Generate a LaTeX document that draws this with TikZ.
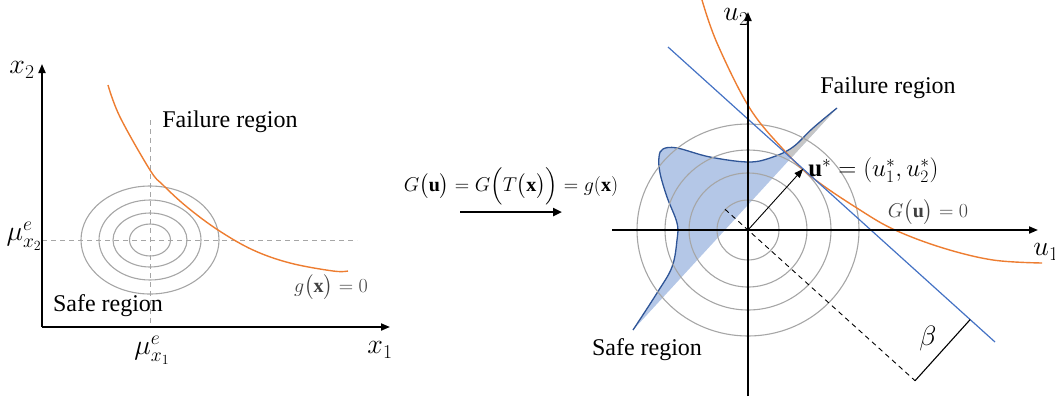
\RequirePackage{fix-cm}
\documentclass[tikz,border=0pt]{standalone}
\usepackage{amsmath}
\usepackage{fontspec}
\setmainfont{Liberation Serif}
\usetikzlibrary{arrows.meta,calc}
\definecolor{orng}{HTML}{ED7D31}
\definecolor{lblue}{HTML}{4472C4}
\definecolor{dblue}{HTML}{2F5597}
\definecolor{fblue}{HTML}{B4C7E7}
\definecolor{cgray}{HTML}{A6A6A6}
\definecolor{tgray}{HTML}{404040}
\begin{document}
\begin{tikzpicture}[x=1pt,y=-1pt,
  axis/.style={line width=1.8pt,-{Triangle[length=9pt,width=7pt]}},
  contour/.style={cgray,line width=1.1pt},
  guide/.style={cgray,line width=0.9pt,dash pattern=on 5pt off 4pt},
  lsf/.style={orng,line width=1.4pt},
  big/.style={inner sep=1pt,font=\fontsize{24}{28}\selectfont},
  mlab/.style={inner sep=1pt,font=\fontsize{28}{32}\selectfont},
  mid/.style={inner sep=1pt,font=\fontsize{20}{24}\selectfont},
]
\useasboundingbox (0,0) rectangle (1055,400);

% ---------- left panel ----------
\coordinate (LO) at (42,327);
\coordinate (LX) at (390,327);
\coordinate (LY) at (42,64);
\coordinate (LC) at (150,240);
\draw[guide] (150,120) -- (150,327);
\draw[guide] (42,240) -- (357,240);
\foreach \a/\b in {69/54,51/40,37/27,20.5/16}
  \draw[contour] (LC) ellipse ({\a pt} and {\b pt});
\draw[lsf] plot[smooth,tension=0.6] coordinates {(108,85) (120,117) (150,170) (163,185) (187,207) (218,230) (253,250) (290,263) (333,271) (348,271)};
\draw[axis] (LO) -- (LX);
\draw[axis] (LO) -- (LY);
\node[mlab] (lx2) at (22,70) {$x_2$};
\node[mlab] (lx1) at (380,350) {$x_1$};
\node[mlab,anchor=east,inner sep=0pt] (mu2) at (42,236) {$\mu^e_{x_2}$};
\node[mlab] (mu1) at (152,350) {$\mu^e_{x_1}$};
\node[big] (lfail) at (230,122) {Failure region};
\node[big] (lsafe) at (108,306) {Safe region};
\node[mid,text=tgray] (lg) at (331,287) {$g\bigl(\mathbf{x}\bigr)=0$};

% ---------- middle ----------
\node[mid] (map) at (511,186) {$G\bigl(\mathbf{u}\bigr)=G\Bigl(T\bigl(\mathbf{x}\bigr)\Bigr)=g(\mathbf{x})$};
\coordinate (ma) at (460,212);
\coordinate (mb) at (562,212);
\draw[line width=2.6pt,-{Triangle[length=9pt,width=8pt]}] (ma) -- (mb);

% ---------- right panel ----------
\coordinate (O) at (748,230);
\coordinate (bl1) at (668,47);
\coordinate (bl2) at (995,342);
\def\safecurve{plot[smooth,tension=0.6] coordinates {(633,330) (657,293) (672,267) (677,240) (677,223) (667,197) (660,173) (659,157) (663,149) (677,148) (710,157) (749,162) (773,157) (793,147) (813,128) (837,108)}}
\fill[fblue] \safecurve -- cycle;
\begin{scope}
  \clip (600,-14) -- (1055,396) -- (1055,-14) -- cycle;
  \fill[gray!45] \safecurve -- cycle;
\end{scope}
\draw[dblue,line width=1.3pt] \safecurve;
\foreach \a/\b in {31/30,59/57,83/80,111/106}
  \draw[contour] (O) ellipse ({\a pt} and {\b pt});
\draw[lsf] plot[smooth,tension=0.6] coordinates {(702,0) (717,43) (749,107) (782,148) (813,178) (860,210) (895,230) (943,248) (993,260) (1042,263)};
\draw[lblue,line width=1.2pt] (bl1) -- (bl2);
\draw[axis] (612,230) -- (1038,230);
\draw[axis] (748,396) -- (748,12);
\coordinate (us) at ($(bl1)!(O)!(bl2)$);
\coordinate (d1) at ($(O)-(0.7425*31,0.6698*31)$);
\coordinate (d2) at ($(O)+(0.7425*225,0.6698*225)$);
\coordinate (bt) at ($(bl1)!(d2)!(bl2)$);
\draw[line width=0.9pt,dash pattern=on 5pt off 4pt] (d1) -- (d2);
\draw[line width=1.1pt] (d2) -- (bt);
\draw[line width=0.9pt,-{Triangle[length=9pt,width=7pt]}] (O) -- (us);
\node[mlab] (u2) at (736,17) {$u_2$};
\node[mlab] (u1) at (1046,252) {$u_1$};
\node[big] (rfail) at (888,88) {Failure region};
\node[big] (rsafe) at (647,350) {Safe region};
\node[inner sep=0pt,font=\fontsize{25}{30}\selectfont,anchor=west] (uslab) at ($(us)+(5,1)$) {$\mathbf{u}^{*}=(u_1^{*},u_2^{*})$};
\node[mid,text=tgray,inner sep=0pt] (rG) at (928,212) {$G\bigl(\mathbf{u}\bigr)=0$};
\node[mlab] (beta) at (928,338) {$\beta$};
\end{tikzpicture}
\end{document}
